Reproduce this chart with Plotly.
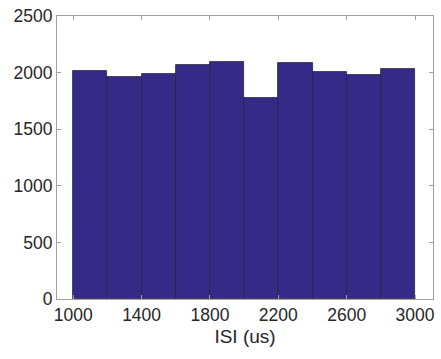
import plotly.graph_objects as go

bin_edges = [1000, 1200, 1400, 1600, 1800, 2000, 2200, 2400, 2600, 2800, 3000]
counts = [2011, 1959, 1988, 2068, 2094, 1777, 2085, 2009, 1982, 2029]
x_ticks = [1000, 1400, 1800, 2200, 2600, 3000]
y_ticks = [0, 500, 1000, 1500, 2000, 2500]

centers = [(a + b) / 2 for a, b in zip(bin_edges[:-1], bin_edges[1:])]
widths = [b - a for a, b in zip(bin_edges[:-1], bin_edges[1:])]

fig = go.Figure(go.Bar(
    x=centers, y=counts, width=widths,
    marker=dict(color="#352A87", line=dict(color="#26233f", width=0.8)),
))

axis_common = dict(
    showgrid=False, zeroline=False, showline=True, mirror="ticks",
    linecolor="#a0a0a0", linewidth=1, ticks="inside", ticklen=4,
    tickcolor="#a0a0a0",
    tickfont=dict(family="Liberation Sans, Arial", size=17.5, color="#262626"),
)

fig.update_layout(
    width=441, height=359,
    margin=dict(l=57, r=6, t=15, b=60),
    plot_bgcolor="white", paper_bgcolor="white",
    showlegend=False, bargap=0,
    xaxis=dict(range=[905, 3105], tickvals=x_ticks,
               title=dict(text="ISI (us)", standoff=5,
                          font=dict(family="Liberation Sans, Arial", size=19, color="#262626")),
               **axis_common),
    yaxis=dict(range=[0, 2500], tickvals=y_ticks, **axis_common),
)

fig.write_html("out.html")
